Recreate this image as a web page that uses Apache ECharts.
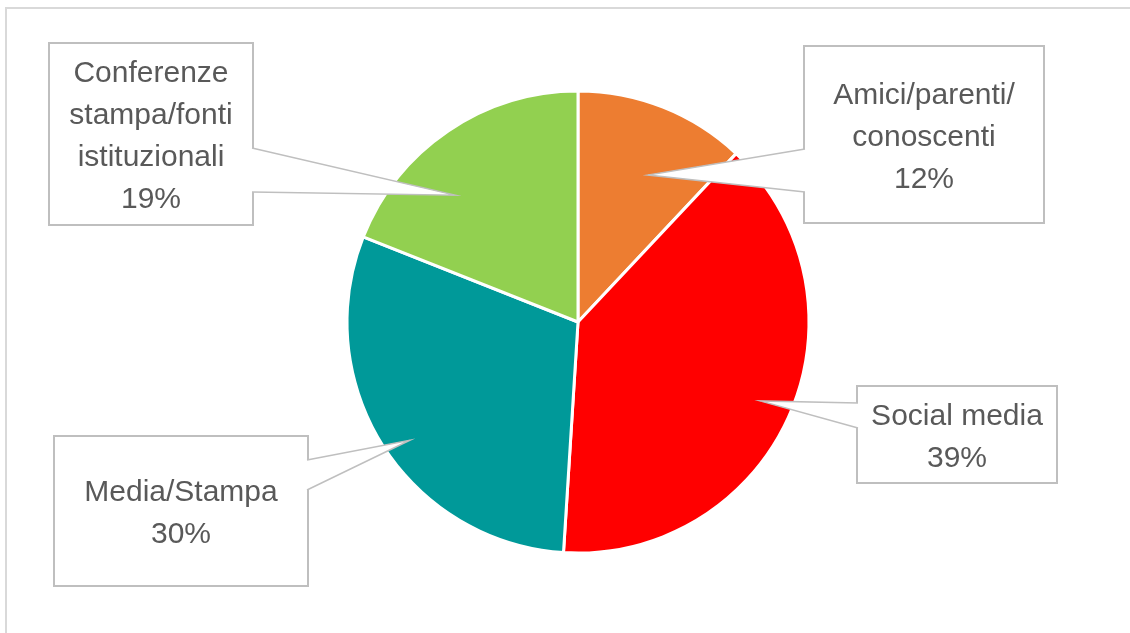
<!DOCTYPE html>
<html>
<head>
<meta charset="utf-8">
<script src="https://cdn.jsdelivr.net/npm/echarts@6/dist/echarts.min.js"></script>
<style>html,body{margin:0;padding:0;background:#fff}#c{width:1130px;height:633px}</style>
</head>
<body>
<div id="c"></div>
<script>
// ---- data ----
const categories = ['Amici/parenti/\nconoscenti', 'Social media', 'Media/Stampa', 'Conferenze\nstampa/fonti\nistituzionali'];
const values = [12, 39, 30, 19];
const colors = ['#ED7D31', '#FF0000', '#009999', '#92D050'];

// ---- label box layout (style/position config) ----
// tipA: fraction along the slice's angle span, tipR: fraction of the radius
const boxes = [
  {x: 805, y: 47,  w: 238, h: 175, side: 'left',  base: [102, 145], tipA: 0.59, tipR: 0.705},
  {x: 858, y: 387, w: 198, h: 95,  side: 'left',  base: [16, 41],   tipA: 0.50, tipR: 0.86},
  {x: 55,  y: 437, w: 252, h: 148, side: 'right', base: [23, 53],   tipA: 0.475, tipR: 0.89},
  {x: 50,  y: 44,  w: 202, h: 180, side: 'right', base: [104, 148], tipA: 0.355, tipR: 0.765}
];
const LH = 42;
const SHIFT = 3;
const FONT = 'Liberation Sans';

const chart = echarts.init(document.getElementById('c'), null, {renderer: 'canvas'});

const seriesData = categories.map((name, i) => {
  const nLines = name.split('\n').length + 1;
  const b = boxes[i];
  const pt = (b.h - nLines * LH) / 2 + SHIFT;
  return {
    name: name,
    value: values[i],
    itemStyle: {color: colors[i]},
    label: {
      width: b.w - 8,
      padding: [pt, 4, b.h - nLines * LH - pt, 4]
    }
  };
});

const frame = {
  type: 'rect', silent: true, z: 0,
  shape: {x: 6, y: 8, width: 1200, height: 700},
  style: {fill: 'none', stroke: '#d9d9d9', lineWidth: 2}
};

chart.setOption({
  animation: false,
  backgroundColor: '#ffffff',
  graphic: [frame],
  series: [{
    type: 'pie',
    center: [578, 322],
    radius: 231,
    startAngle: 90,
    clockwise: true,
    avoidLabelOverlap: false,
    itemStyle: {borderColor: '#ffffff', borderWidth: 3},
    label: {
      show: true,
      position: 'outside',
      formatter: p => p.name + '\n' + Math.round(p.percent) + '%',
      fontFamily: FONT,
      fontSize: 30,
      lineHeight: LH,
      color: '#595959',
      align: 'center',
      backgroundColor: '#ffffff',
      borderColor: '#bfbfbf',
      borderWidth: 2
    },
    labelLine: {show: false},
    emphasis: {disabled: true},
    labelLayout: function (params) {
      const b = boxes[params.dataIndex];
      return {x: b.x + b.w / 2, y: b.y, align: 'center', verticalAlign: 'top'};
    },
    data: seriesData
  }]
});

// callout wedges computed from the pie's own layout
const data = chart.getModel().getSeriesByIndex(0).getData();
const wedges = [];
for (let i = 0; i < values.length; i++) {
  const L = data.getItemLayout(i);
  const b = boxes[i];
  const a = L.startAngle + (L.endAngle - L.startAngle) * b.tipA;
  const tip = [L.cx + Math.cos(a) * L.r * b.tipR, L.cy + Math.sin(a) * L.r * b.tipR];
  const ex = b.side === 'left' ? b.x : b.x + b.w;
  const p1 = [ex, b.y + b.base[0]];
  const p2 = [ex, b.y + b.base[1]];
  wedges.push({type: 'polygon', silent: true, z: 10, shape: {points: [tip, p1, p2]}, style: {fill: '#ffffff', stroke: null}});
  wedges.push({type: 'polyline', silent: true, z: 11, shape: {points: [p1, tip, p2]}, style: {fill: null, stroke: '#bfbfbf', lineWidth: 1.5}});
}
chart.setOption({graphic: [frame].concat(wedges)}, {replaceMerge: ['graphic']});
</script>
</body>
</html>
